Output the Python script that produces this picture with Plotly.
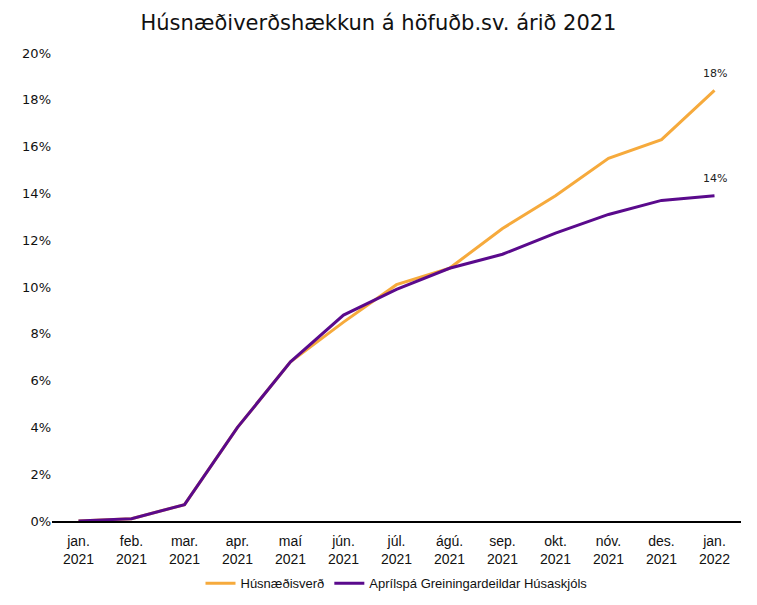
import plotly.graph_objects as go

categories = ["jan.<br>2021", "feb.<br>2021", "mar.<br>2021", "apr.<br>2021", "maí<br>2021",
              "jún.<br>2021", "júl.<br>2021", "ágú.<br>2021", "sep.<br>2021", "okt.<br>2021",
              "nóv.<br>2021", "des.<br>2021", "jan.<br>2022"]
husnaedisverd = [0.0, 0.1, 0.7, 4.0, 6.8, 8.5, 10.1, 10.8, 12.5, 13.9, 15.5, 16.3, 18.4]
aprilspa = [0.0, 0.1, 0.7, 4.0, 6.8, 8.8, 9.9, 10.8, 11.4, 12.3, 13.1, 13.7, 13.9]
y_ticks = [0, 2, 4, 6, 8, 10, 12, 14, 16, 18, 20]

orange = "#F6AA3C"
purple = "#5A0A8C"

fig = go.Figure()
fig.add_trace(go.Scatter(x=categories, y=husnaedisverd, mode="lines", name="Húsnæðisverð",
                         line=dict(color=orange, width=3)))
fig.add_trace(go.Scatter(x=categories, y=aprilspa, mode="lines", name="Aprílspá Greiningardeildar Húsaskjóls",
                         line=dict(color=purple, width=3)))

fig.add_annotation(x=categories[-1], y=husnaedisverd[-1], text="18%", showarrow=False,
                   yshift=17, font=dict(size=11, color="#222"))
fig.add_annotation(x=categories[-1], y=aprilspa[-1], text="14%", showarrow=False,
                   yshift=17, font=dict(size=11, color="#222"))

fig.update_layout(
    width=757, height=605,
    margin=dict(l=52, r=16, t=53, b=84, autoexpand=False),
    paper_bgcolor="white", plot_bgcolor="white",
    font=dict(family="DejaVu Sans, Liberation Sans, sans-serif", color="#111"),
    title=dict(text="Húsnæðiverðshækkun á höfuðb.sv. árið 2021", x=0.5, xanchor="center",
               y=0.963, yanchor="middle", font=dict(size=21, family="DejaVu Sans", color="#111")),
    xaxis=dict(type="category", range=[-0.5, 12.5], showgrid=False, showline=True,
               linecolor="black", linewidth=2, ticks="", ticklabelstandoff=6,
               tickfont=dict(size=14, family="Liberation Sans Narrow, Liberation Sans, sans-serif")),
    yaxis=dict(range=[0, 20], tickvals=y_ticks, ticktext=[f"{v}%" for v in y_ticks],
               showgrid=False, zeroline=False, showline=False, ticks="",
               tickfont=dict(size=13, family="DejaVu Sans")),
    legend=dict(orientation="h", x=0.5, xanchor="center", yref="container", y=0.036, yanchor="middle",
                font=dict(size=13, family="Liberation Sans Narrow, Liberation Sans, sans-serif")),
    showlegend=True,
)

fig.write_html("out.html")
